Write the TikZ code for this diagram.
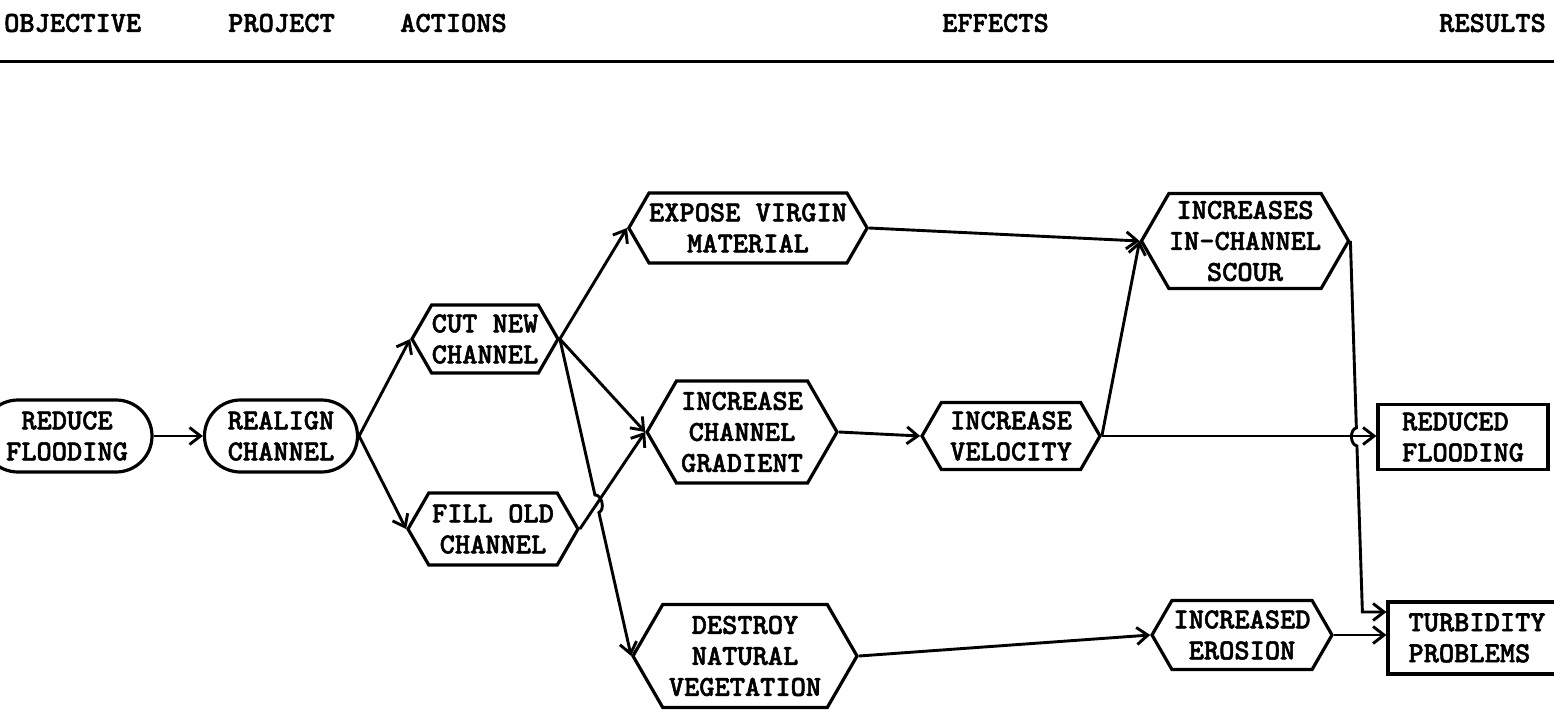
\documentclass[tikz,border=0pt]{standalone}
\usepackage{fontspec}
\usetikzlibrary{shapes.symbols,shapes.misc,arrows.meta,calc}
\newfontfamily\typefam{lmmonolt10-bold.otf}[FakeBold=1.8]
\newcommand\typefont{\typefam\fontsize{29}{31}\selectfont}
\begin{document}
\begin{tikzpicture}[x=1pt,y=-1pt,
  txt/.style={font=\typefont, align=center, inner sep=0pt},
  box/.style={txt, draw, line width=3.2pt},
  hexa/.style={box, signal, signal to=east and west, signal pointer angle=120},
  pill/.style={box, rounded rectangle},
  rect/.style={box, rectangle, align=left},
  link/.style={line width=2.9pt, -{Straight Barb[length=11pt,width=17pt]}},
  rule/.style={line width=3pt}]
\useasboundingbox (0,0) rectangle (1554,709);
\clip (0,0) rectangle (1554,709);

% column headings
\node[txt, anchor=west] (hobj) at (4,23) {OBJECTIVE};
\node[txt, anchor=west] (hproj) at (228,23) {PROJECT};
\node[txt, anchor=west] (hact) at (400,23) {ACTIONS};
\node[txt, anchor=west] (heff) at (942,23) {EFFECTS};
\node[txt, anchor=east] (hres) at (1546,23) {RESULTS};
\draw[rule] (0,62) -- (1554,62);

% objective and project
\node[pill, minimum width=170pt, minimum height=72pt] (reduce) at (67,436) {REDUCE\\FLOODING};
\node[pill, minimum width=153pt, minimum height=72pt] (realign) at (281,436) {REALIGN\\CHANNEL};

% actions
\node[hexa, minimum width=146pt, minimum height=68pt] (cutnew) at (485,339) {CUT NEW\\CHANNEL};
\node[hexa, minimum width=170pt, minimum height=72pt] (fillold) at (493,529) {FILL OLD\\CHANNEL};

% effects
\node[hexa, minimum width=237pt, minimum height=70pt] (expose) at (748,228) {EXPOSE VIRGIN\\MATERIAL};
\node[hexa, minimum width=190pt, minimum height=102pt] (gradient) at (742,432) {INCREASE\\CHANNEL\\GRADIENT};
\node[hexa, minimum width=224pt, minimum height=103pt] (destroy) at (745,656) {DESTROY\\NATURAL\\VEGETATION};
\node[hexa, minimum width=178pt, minimum height=67pt] (velocity) at (1011,436) {INCREASE\\VELOCITY};
\node[hexa, minimum width=206pt, minimum height=95pt] (scour) at (1245,241) {INCREASES\\IN-CHANNEL\\SCOUR};
\node[hexa, minimum width=180pt, minimum height=69pt] (erosion) at (1242,635) {INCREASED\\EROSION};

% results
\node[rect, minimum width=170pt, minimum height=65pt] (reduced) at (1463,437) {REDUCED\\FLOODING};
\node[rect, minimum width=178pt, minimum height=72pt] (turbid) at (1477,638) {TURBIDITY\\PROBLEMS};

% connectors
\draw[link] (reduce.east) -- (realign.west);
\draw[link] (realign.east) -- (cutnew.west);
\draw[link] (realign.east) -- (fillold.west);
\draw[link] (cutnew.east) -- (expose.west);
\draw[link] (cutnew.east) -- (gradient.west);
\draw[link] (fillold.east) -- (gradient.west);
\coordinate (xa) at (intersection of cutnew.east--destroy.west and fillold.east--gradient.west);
\draw[link] (cutnew.east) -- ($(xa)!9pt!(cutnew.east)$)
  to[bend left=80] ($(xa)!9pt!(destroy.west)$) -- (destroy.west);
\draw[link] (gradient.east) -- (velocity.west);
\draw[link] (expose.east) -- (scour.west);
\draw[link] (velocity.east) -- (scour.west);
\draw[link] (velocity.east) -- (velocity.east -| reduced.west);
\draw[link] (destroy.east) -- (erosion.west);
\draw[link] (erosion.east) -- (erosion.east -| turbid.west);
\coordinate (turn) at ($(scour.east)+(12,371)$);
\coordinate (xb) at (intersection of scour.east--turn and velocity.east--reduced.west);
\draw[link] (scour.east) -- ($(xb)!9pt!(scour.east)$)
  to[bend right=80] ($(xb)!9pt!(turn)$) -- (turn) -- (turn -| turbid.west);
\end{tikzpicture}
\end{document}
